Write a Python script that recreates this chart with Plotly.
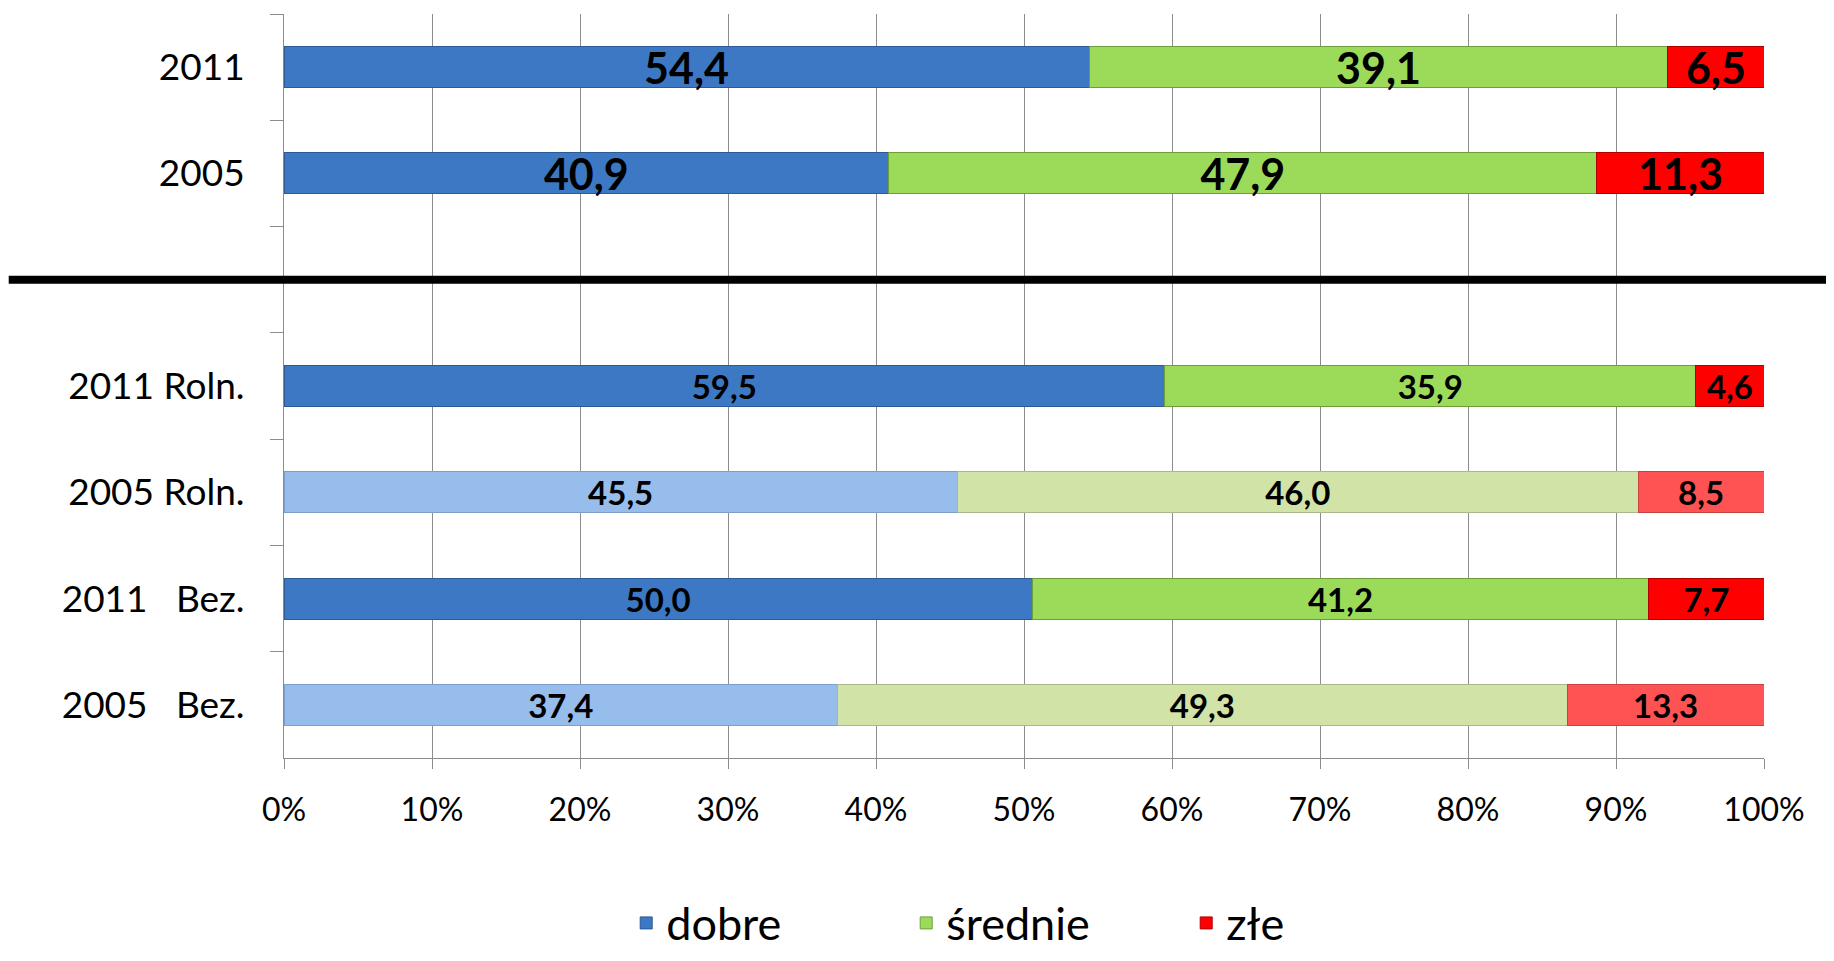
import plotly.graph_objects as go

# Categories top to bottom; the blank one holds the separator line
categories = ["2011", "2005", " ", "2011 Roln.", "2005 Roln.",
              "2011\u00a0\u00a0\u00a0Bez.", "2005\u00a0\u00a0\u00a0Bez."]
dobre = [54.4, 40.9, None, 59.5, 45.5, 50.0, 37.4]
srednie = [39.1, 47.9, None, 35.9, 46.0, 41.2, 49.3]
zle = [6.5, 11.3, None, 4.6, 8.5, 7.7, 13.3]
x_ticks = list(range(0, 101, 10))
x_tick_text = [f"{t}%" for t in x_ticks]

# the 2005 rows of the sub-groups are drawn pale
saturated = [True, True, True, True, False, True, False]


def fmt(v):
    return "" if v is None else f"{v:.1f}".replace(".", ",")


def colors(dark, light):
    return [dark if s else light for s in saturated]


label_sizes = [43, 43, 10, 33, 33, 33, 33]

series = [
    ("dobre", dobre, ("#3C78C3", "#96BDEC"), ("#2B5A94", "#7A9FCC")),
    ("średnie", srednie, ("#9CDB5A", "#D1E3A7"), ("#6E9E3C", "#A9B888")),
    ("złe", zle, ("#FF0000", "#FF5353"), ("#B00000", "#C84040")),
]

fig = go.Figure()
for name, vals, fill, edge in series:
    fig.add_trace(go.Bar(
        y=categories,
        x=vals,
        name=name,
        orientation="h",
        text=[fmt(v) for v in vals],
        textposition="inside",
        insidetextanchor="middle",
        textangle=0,
        constraintext="none",
        textfont=dict(family="Lato", size=label_sizes, color="black",
                      weight="bold"),
        marker=dict(color=colors(*fill),
                    line=dict(color=colors(*edge), width=1)),
    ))

sep_idx = categories.index(" ")
fig.add_shape(type="line", xref="paper", yref="y",
              x0=-0.186, x1=1.06, y0=sep_idx, y1=sep_idx,
              line=dict(color="black", width=8), layer="above")

# page body has an 8px margin, so the figure is 16px smaller than the window
fig.update_layout(
    width=1818, height=945,
    margin=dict(l=276, r=62, t=6, b=195, autoexpand=False),
    barmode="stack", barnorm="percent", bargap=0.614,
    plot_bgcolor="white", paper_bgcolor="white",
    font=dict(family="Lato", color="black"),
    legend=dict(orientation="h", x=0.515, xanchor="center",
                y=-0.222, yanchor="middle",
                font=dict(size=45), entrywidth=235,
                traceorder="normal"),
    showlegend=True,
)
fig.update_xaxes(
    range=[0, 100], tickvals=x_ticks, ticktext=x_tick_text,
    showgrid=True, gridcolor="#8C8C8C", gridwidth=1,
    showline=True, linecolor="#8C8C8C", linewidth=1,
    ticks="outside", ticklen=10, tickcolor="#8C8C8C",
    tickfont=dict(size=32), ticklabelstandoff=14, zeroline=False,
)
fig.update_yaxes(
    categoryorder="array", categoryarray=categories,
    autorange="reversed", range=[6.5, -0.5],
    showline=True, linecolor="#8C8C8C", linewidth=1,
    ticks="outside", ticklen=13, tickcolor="#8C8C8C",
    tickson="boundaries", tickfont=dict(size=37),
    ticklabelstandoff=31, showgrid=False,
)

fig.write_html("out.html")
